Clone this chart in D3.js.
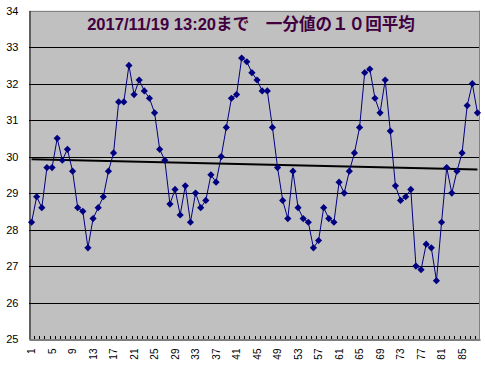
<!DOCTYPE html>
<html><head><meta charset="utf-8">
<script src="https://cdn.jsdelivr.net/npm/d3@7"></script>
<style>body{margin:0;background:#fff}svg{display:block}</style>
</head><body>
<svg id="c" width="485" height="369"></svg>
<script>
const titleText = "2017/11/19 13:20まで　一分値の１０回平均";
const categories = d3.range(1, 89);
const values = [
 28.2,28.9,28.6,29.7,29.7,30.5,29.9,30.2,29.6,28.6,
 28.5,27.5,28.3,28.6,28.9,29.6,30.1,31.5,31.5,32.5,
 31.7,32.1,31.8,31.6,31.2,30.2,29.9,28.7,29.1,28.4,
 29.2,28.2,29.0,28.6,28.8,29.5,29.3,30.0,30.8,31.6,
 31.7,32.7,32.6,32.3,32.1,31.8,31.8,30.8,29.7,28.8,
 28.3,29.6,28.6,28.3,28.2,27.5,27.7,28.6,28.3,28.2,
 29.3,29.0,29.6,30.1,30.8,32.3,32.4,31.6,31.2,32.1,
 30.7,29.2,28.8,28.9,29.1,27.0,26.9,27.6,27.5,26.6,
 28.2,29.7,29.0,29.6,30.1,31.4,32.0,31.2
];
const trendEnds = [29.93, 29.65];
const yTicks = [25,26,27,28,29,30,31,32,33,34];
const xTickLabels = categories.filter(c => (c - 1) % 4 === 0);

const svg = d3.select("#c");
const L = 29, R = 480, T = 10.7, B = 339;
const x = d3.scaleBand().domain(categories).range([L, R]);
const xc = c => x(c) + x.bandwidth() / 2;
const y = d3.scaleLinear().domain([25, 34]).range([B, T]);

svg.append("rect").attr("x", L).attr("y", T).attr("width", R - L).attr("height", B - T).attr("fill", "#c0c0c0");

// gridlines
svg.append("g").selectAll("line").data(yTicks.filter(v => v > 25 && v < 34)).join("line")
  .attr("x1", L).attr("x2", R).attr("y1", d => Math.round(y(d)) + 0.5).attr("y2", d => Math.round(y(d)) + 0.5)
  .attr("stroke", "#000").attr("stroke-width", 1);

// borders
svg.append("line").attr("x1", L).attr("x2", R).attr("y1", Math.round(T) + 0.5).attr("y2", Math.round(T) + 0.5).attr("stroke", "#808080");
svg.append("line").attr("x1", R - 0.5).attr("x2", R - 0.5).attr("y1", T).attr("y2", B).attr("stroke", "#808080");

// y axis
const yAxis = d3.axisLeft(y).tickValues(yTicks).tickSize(0).tickPadding(11).tickFormat(d3.format("d"));
const gy = svg.append("g").attr("transform", `translate(${L + 0.5},0)`).call(yAxis);
gy.select(".domain").attr("stroke", "#000");
gy.selectAll("text").attr("font-family", "Arial, 'Liberation Sans', sans-serif").attr("font-size", 11).attr("fill", "#000");

// x axis
const xAxis = d3.axisBottom(x).tickValues(xTickLabels).tickSize(0).tickPadding(0);
const gx = svg.append("g").attr("transform", `translate(0,${B + 0.5})`).call(xAxis);
gx.select(".domain").attr("stroke", "#000");
gx.selectAll("text").attr("font-family", "Arial, 'Liberation Sans', sans-serif").attr("font-size", 10).attr("fill", "#000")
  .attr("text-anchor", "end").attr("dy", null).attr("y", 0)
  .attr("transform", "translate(3.5,9) rotate(-90)");
// inside tick marks at category boundaries
svg.append("g").selectAll("line").data(categories.slice(1)).join("line")
  .attr("x1", d => Math.round(x(d)) + 0.5).attr("x2", d => Math.round(x(d)) + 0.5)
  .attr("y1", B - 3).attr("y2", B).attr("stroke", "#000");

// trend line
svg.append("line")
  .attr("x1", xc(categories[0])).attr("x2", xc(categories[categories.length - 1]))
  .attr("y1", y(trendEnds[0])).attr("y2", y(trendEnds[1]))
  .attr("stroke", "#000").attr("stroke-width", 2);

// data line
const line = d3.line().x((d, i) => xc(categories[i])).y(d => y(d));
svg.append("path").datum(values).attr("d", line).attr("fill", "none").attr("stroke", "#000080").attr("stroke-width", 1);

svg.append("g").selectAll("path").data(values).join("path")
  .attr("transform", (d, i) => `translate(${xc(categories[i])},${y(d)})`)
  .attr("d", "M0,-3.6L3.6,0L0,3.6L-3.6,0Z").attr("fill", "#000080");

// title
const t = svg.append("text").text(titleText)
  .attr("font-family", "Arial, 'Liberation Sans', 'Noto Sans CJK JP', sans-serif")
  .attr("font-weight", "bold").attr("font-size", 15).attr("fill", "#400040")
  .attr("text-anchor", "middle").attr("x", 251).attr("y", 30);
const w = t.node().getComputedTextLength();
t.attr("font-size", 15 * 328 / w);
</script>
</body></html>
